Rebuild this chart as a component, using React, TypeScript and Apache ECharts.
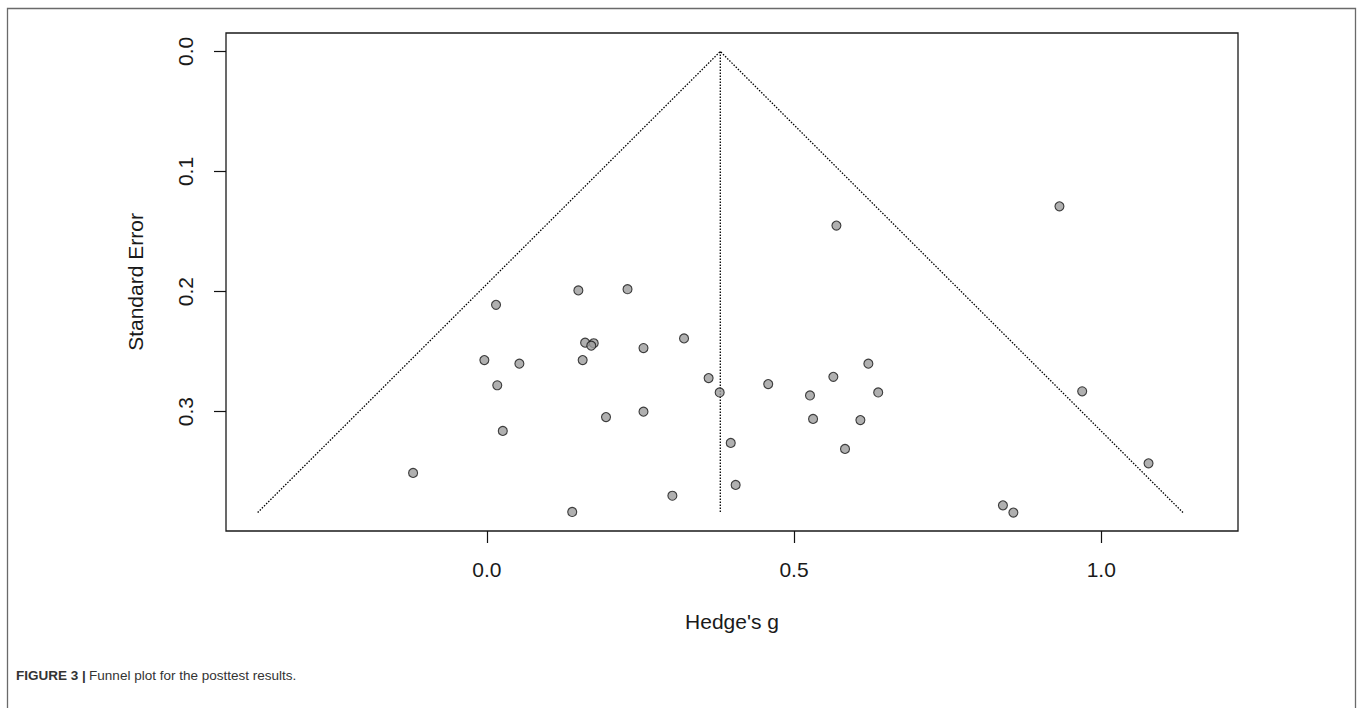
import React, { useEffect, useRef } from "react";
import * as echarts from "echarts";

// Study effect sizes (Hedge's g) and their standard errors
const hedgesG = [
  -0.120, -0.004, 0.015, 0.017, 0.026, 0.053, 0.139, 0.149, 0.156, 0.160,
  0.174, 0.170, 0.194, 0.229, 0.255, 0.255, 0.302, 0.321, 0.361, 0.379,
  0.397, 0.405, 0.458, 0.526, 0.531, 0.564, 0.583, 0.608, 0.621, 0.637,
  0.569, 0.932, 0.969, 1.077, 0.840, 0.857,
];
const standardError = [
  0.351, 0.257, 0.211, 0.278, 0.316, 0.260, 0.3835, 0.199, 0.257, 0.2425,
  0.243, 0.245, 0.3045, 0.198, 0.247, 0.300, 0.370, 0.239, 0.272, 0.284,
  0.326, 0.361, 0.277, 0.2865, 0.306, 0.271, 0.331, 0.307, 0.260, 0.284,
  0.145, 0.129, 0.283, 0.343, 0.378, 0.384,
];

// Funnel (pseudo 95% CI) outline and the summary estimate line
const funnelG = [-0.373, 0.380, 1.133];
const funnelSE = [0.384, 0.0, 0.384];
const estimateG = [0.380, 0.380];
const estimateSE = [0.0, 0.384];

// Axes
const xTicks = [0.0, 0.5, 1.0];
const yTicks = [0.0, 0.1, 0.2, 0.3];
const xRange = [-0.4245, 1.2226];
const yRange = [-0.01536, 0.39936];

const FONT = "'Liberation Sans', Arial, Helvetica, sans-serif";

export default function App() {
  const ref = useRef<HTMLDivElement>(null);

  useEffect(() => {
    if (!ref.current) return;
    const chart = echarts.init(ref.current, null, { renderer: "svg" });

    const points = hedgesG.map((g, i) => [g, standardError[i]]);
    const funnel = funnelG.map((g, i) => [g, funnelSE[i]]);
    const estimate = estimateG.map((g, i) => [g, estimateSE[i]]);

    chart.setOption({
      animation: false,
      backgroundColor: "#ffffff",
      grid: {
        left: 226,
        top: 33,
        width: 1012,
        height: 498,
        show: true,
        borderColor: "#1a1a1a",
        borderWidth: 1.3,
        backgroundColor: "transparent",
        containLabel: false,
      },
      xAxis: {
        type: "value",
        min: xRange[0],
        max: xRange[1],
        axisLine: { show: false, onZero: false },
        splitLine: { show: false },
        axisTick: {
          show: true,
          inside: false,
          length: 12,
          lineStyle: { color: "#111", width: 1.2 },
          customValues: xTicks,
        },
        axisLabel: {
          customValues: xTicks,
          formatter: (v: number) => v.toFixed(1),
          fontSize: 21,
          color: "#1a1a1a",
          fontFamily: FONT,
          margin: 28,
        },
        name: "Hedge's g",
        nameLocation: "middle",
        nameGap: 80,
        nameTextStyle: { fontSize: 21, color: "#1a1a1a", fontFamily: FONT },
      },
      yAxis: {
        type: "value",
        inverse: true,
        min: yRange[0],
        max: yRange[1],
        axisLine: { show: false, onZero: false },
        splitLine: { show: false },
        axisTick: {
          show: true,
          inside: false,
          length: 12,
          lineStyle: { color: "#111", width: 1.2 },
          customValues: yTicks,
        },
        axisLabel: {
          customValues: yTicks,
          formatter: (v: number) => v.toFixed(1),
          fontSize: 21,
          color: "#1a1a1a",
          fontFamily: FONT,
          rotate: 90,
          margin: 30,
        },
        name: "Standard Error",
        nameLocation: "middle",
        nameRotate: 90,
        nameGap: 80,
        nameTextStyle: { fontSize: 21, color: "#1a1a1a", fontFamily: FONT },
      },
      series: [
        {
          type: "line",
          data: funnel,
          symbol: "none",
          silent: true,
          lineStyle: { color: "#000", width: 1.3, type: [1.5, 1.5] },
          z: 2,
        },
        {
          type: "line",
          data: estimate,
          symbol: "none",
          silent: true,
          lineStyle: { color: "#000", width: 1.3, type: [1.5, 1.5] },
          z: 2,
        },
        {
          type: "scatter",
          data: points,
          symbol: "circle",
          symbolSize: 9,
          itemStyle: { color: "#9c9c9c", borderColor: "#151515", borderWidth: 1.1 },
          z: 3,
        },
      ],
      graphic: [
        {
          type: "rect",
          shape: { x: 7.5, y: 8.5, width: 1348, height: 720 },
          style: { fill: "none", stroke: "#6a6a6a", lineWidth: 1.3 },
          silent: true,
          z: -1,
        },
        {
          type: "text",
          left: 16,
          top: 668,
          style: {
            text: "{b|FIGURE 3 |} {n|Funnel plot for the posttest results.}",
            rich: {
              b: { fontWeight: "bold", fontSize: 13.5, fill: "#333", fontFamily: FONT },
              n: { fontSize: 13.5, fill: "#333", fontFamily: FONT },
            },
          },
        },
      ],
    });

    return () => chart.dispose();
  }, []);

  return (
    <div
      ref={ref}
      style={{ position: "fixed", left: 0, top: 0, width: 1358, height: 708 }}
    />
  );
}
